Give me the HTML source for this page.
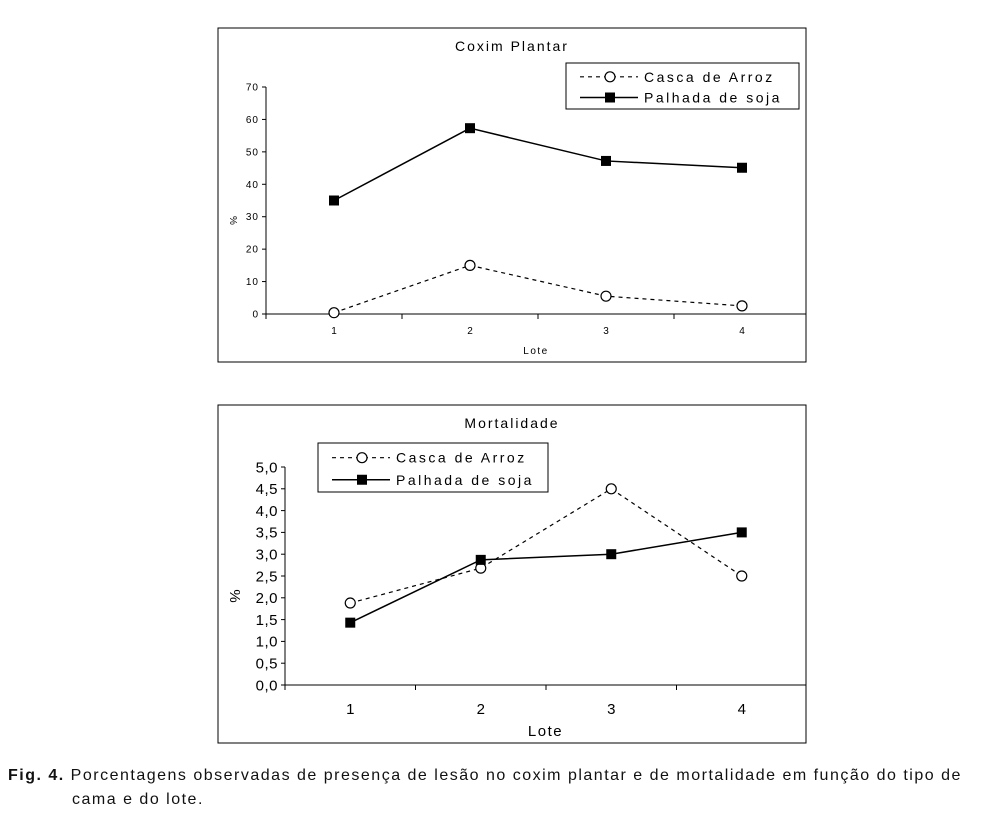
<!DOCTYPE html>
<html><head><meta charset="utf-8"><style>
body{margin:0;background:#fff;width:1007px;height:815px;overflow:hidden;font-family:"Liberation Sans",sans-serif}
svg{position:absolute;left:0;top:0}
.cap{position:absolute;left:8px;top:764px;font-size:16px;line-height:24px;color:#111;letter-spacing:1.5px;width:1000px;white-space:nowrap}
</style></head><body>
<svg id="s" width="1007" height="815" font-family="Liberation Sans, sans-serif"></svg>
<div class="cap"><b>Fig. 4.</b> Porcentagens observadas de presença de lesão no coxim plantar e de mortalidade em função do tipo de<br><span style="padding-left:64px">cama e do lote.</span></div>
<script>
const categories=["1","2","3","4"];
const coximCasca=[0.4,15,5.5,2.5];
const coximPalha=[35,57.3,47.2,45.1];
const coximTicks=["0","10","20","30","40","50","60","70"];
const mortCasca=[1.88,2.68,4.5,2.5];
const mortPalha=[1.43,2.87,3.0,3.5];
const mortTicks=["0,0","0,5","1,0","1,5","2,0","2,5","3,0","3,5","4,0","4,5","5,0"];
const NS="http://www.w3.org/2000/svg";
const svg=document.getElementById('s');
function mk(t,a,p){const e=document.createElementNS(NS,t);for(const k in a)e.setAttribute(k,a[k]);(p||svg).appendChild(e);return e;}
function chart(o){
  const g=mk('g',{});
  
  
  const fr=mk('rect',{x:o.bx,y:o.by,width:o.bw,height:o.bh,fill:'#fff',stroke:'#000','stroke-width':1},g);
  
  
  const tt=mk('text',{x:o.bx+o.bw/2,y:o.by+23,'text-anchor':'middle','font-size':14,'letter-spacing':2},g);tt.textContent=o.title;
  
  
  const n=categories.length,cw=(o.x1-o.x0)/n;
  const X=i=>o.x0+cw*(i+0.5);
  const Y=v=>o.y0-(v/o.max)*(o.y0-o.yTop);
  mk('line',{x1:o.x0,y1:o.y0,x2:o.x0,y2:o.yTop,stroke:'#000'},g);
  mk('line',{x1:o.x0,y1:o.y0,x2:o.bx+o.bw,y2:o.y0,stroke:'#000'},g);
  o.ticks.forEach((t,i)=>{const v=i*o.step,y=Y(v);
    mk('line',{x1:o.x0-4,y1:y,x2:o.x0,y2:y,stroke:'#000'},g);
    const tx=mk('text',{x:o.x0-7,y:y+o.fs*0.35,'text-anchor':'end','font-size':o.fs,'letter-spacing':o.ls},g);tx.textContent=t;
    
    });
  for(let i=0;i<n;i++){const x=o.x0+cw*i;mk('line',{x1:x,y1:o.y0,x2:x,y2:o.y0+5,stroke:'#000'},g);}
  categories.forEach((c,i)=>{const tx=mk('text',{x:X(i),y:o.y0+o.xlOff,'text-anchor':'middle','font-size':o.fs},g);tx.textContent=c;
    
    });
  const xt=mk('text',{x:(o.x0+o.bx+o.bw)/2,y:o.y0+o.xtOff,'text-anchor':'middle','font-size':o.fs,'letter-spacing':1.5},g);xt.textContent='Lote';
  
  
  const yt=mk('text',{x:0,y:0,'text-anchor':'middle','font-size':o.fs,transform:`translate(${o.bx+12},${(o.y0+o.yTop)/2+20}) rotate(90)`},g);yt.textContent='%';
  
  
  const pc=o.casca.map((v,i)=>X(i)+','+Y(v)).join(' ');
  const l1=mk('polyline',{points:pc,fill:'none',stroke:'#000','stroke-width':1.2,'stroke-dasharray':'4,4'},g);
  
  
  const pp=o.palha.map((v,i)=>X(i)+','+Y(v)).join(' ');
  const l2=mk('polyline',{points:pp,fill:'none',stroke:'#000','stroke-width':1.5},g);
  
  
  o.casca.forEach((v,i)=>{const c=mk('circle',{cx:X(i),cy:Y(v),r:5,fill:'#fff',stroke:'#000','stroke-width':1.2},g);
    
    });
  o.palha.forEach((v,i)=>{const r=mk('rect',{x:X(i)-5,y:Y(v)-5,width:10,height:10,fill:'#000'},g);
    
    });
  const L=o.leg;
  const lg=mk('g',{},g);
  
  
  mk('rect',{x:L.x,y:L.y,width:L.w,height:L.h,fill:'#fff',stroke:'#000'},lg);
  const r1=L.y+L.h*0.3,r2=L.y+L.h*0.75;
  mk('line',{x1:L.x+14,y1:r1,x2:L.x+72,y2:r1,stroke:'#000','stroke-dasharray':'4,4','stroke-width':1.2},lg);
  mk('circle',{cx:L.x+44,cy:r1,r:5,fill:'#fff',stroke:'#000','stroke-width':1.2},lg);
  const e1=mk('text',{x:L.x+78,y:r1+5,'font-size':14,'letter-spacing':2.5},lg);e1.textContent='Casca de Arroz';
  
  
  mk('line',{x1:L.x+14,y1:r2,x2:L.x+72,y2:r2,stroke:'#000','stroke-width':1.5},lg);
  mk('rect',{x:L.x+39,y:r2-5,width:10,height:10,fill:'#000'},lg);
  const e2=mk('text',{x:L.x+78,y:r2+5,'font-size':14,'letter-spacing':2.5},lg);e2.textContent='Palhada de soja';
  
  
}
chart({name:'coxim-plantar-chart',title:'Coxim Plantar',bx:218,by:28,bw:588,bh:334,x0:266,x1:810,y0:314,yTop:87,max:70,step:10,ticks:coximTicks,fs:10,ls:1,xlOff:20,xtOff:40,casca:coximCasca,palha:coximPalha,leg:{x:566,y:63,w:233,h:46}});
chart({name:'mortalidade-chart',title:'Mortalidade',bx:218,by:405,bw:588,bh:338,x0:285,x1:807,y0:685,yTop:467,max:5,step:0.5,ticks:mortTicks,fs:15,ls:0.5,xlOff:29,xtOff:51,casca:mortCasca,palha:mortPalha,leg:{x:318,y:443,w:230,h:49}});
</script>
</body></html>
